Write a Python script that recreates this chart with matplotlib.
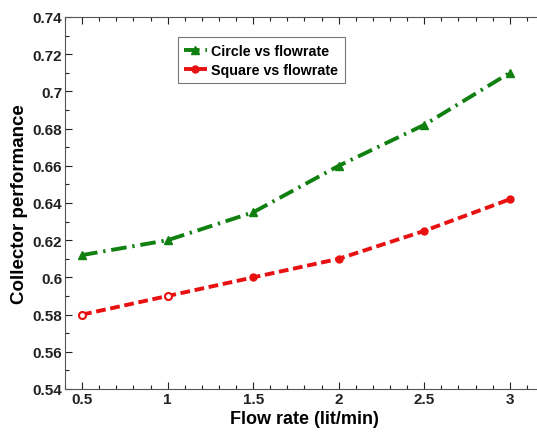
import matplotlib
matplotlib.use("Agg")
import matplotlib.pyplot as plt
from matplotlib.ticker import MultipleLocator, FuncFormatter

plt.rcParams['font.family'] = ['Liberation Sans', 'DejaVu Sans']

# data
flow = [0.5, 1, 1.5, 2, 2.5, 3]
circle = [0.612, 0.620, 0.635, 0.660, 0.682, 0.710]
square = [0.580, 0.590, 0.600, 0.610, 0.625, 0.642]

green = '#108010'
red = '#e81010'

fig = plt.figure(figsize=(5.37, 4.39), dpi=100)
ax = fig.add_axes([65/537, 1-390/439, (544-65)/537, (390-18)/439])

ax.plot(flow, circle, color=green, linestyle='-.', linewidth=2.8,
        dashes=(4, 1.5, 0.6, 1.5),
        marker='^', markersize=6, label='Circle vs flowrate')
ax.plot(flow, square, color=red, linestyle='--', linewidth=2.8,
        dashes=(2.5, 1.2),
        marker='o', markersize=5, label='Square vs flowrate')
# first two square markers look hollow in the original
ax.plot(flow, square, linestyle='none', marker='o', markersize=5,
        markerfacecolor='white', markeredgecolor=red, markeredgewidth=1.5,
        markevery=[0, 1])

ax.set_xlim(0.4, 3.2)
ax.set_ylim(0.54, 0.74)
ax.xaxis.set_major_locator(MultipleLocator(0.5))
ax.xaxis.set_minor_locator(MultipleLocator(0.1))
ax.yaxis.set_major_locator(MultipleLocator(0.02))
ax.yaxis.set_minor_locator(MultipleLocator(0.01))
fmt = FuncFormatter(lambda v, p: '%g' % round(v, 2))
ax.xaxis.set_major_formatter(fmt)
ax.yaxis.set_major_formatter(fmt)
ax.tick_params(which='both', direction='in', top=True, right=True,
               labelsize=11, colors='#222222', width=0.8, pad=2)
ax.tick_params(which='major', length=5)
ax.tick_params(which='minor', length=3)
for lab in ax.get_xticklabels() + ax.get_yticklabels():
    lab.set_fontweight('bold')
for s in ax.spines.values():
    s.set_color('#555555')

ax.set_xlabel('Flow rate (lit/min)', fontsize=13, fontweight='bold', labelpad=3)
ax.set_ylabel('Collector performance', fontsize=13.5, fontweight='bold', labelpad=3)

leg = ax.legend(loc='upper left', bbox_to_anchor=(0.22, 0.965),
                prop={'weight': 'bold', 'size': 10.3}, fancybox=False,
                handlelength=1.6, handletextpad=0.3, borderpad=0.45,
                labelspacing=0.35)
leg.get_frame().set_edgecolor('#555555')
leg.get_frame().set_linewidth(0.8)

fig.savefig('out.png', dpi=100)
